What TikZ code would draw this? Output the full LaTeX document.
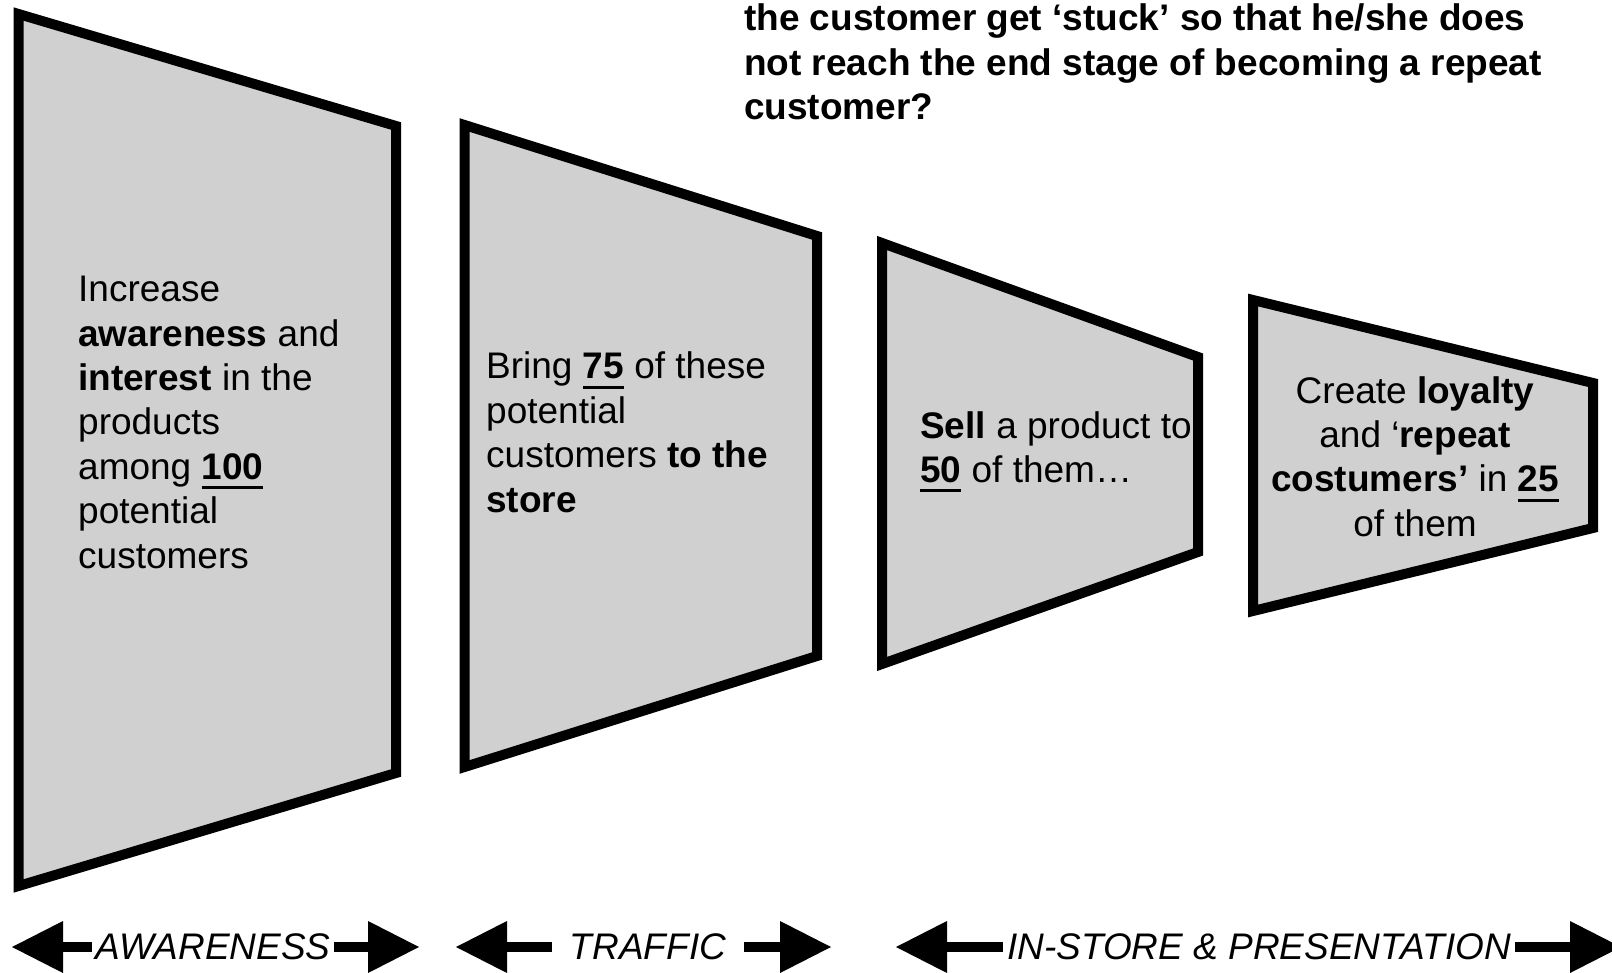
\documentclass[tikz,border=0pt]{standalone}
\usepackage{fontspec}
\setmainfont{Liberation Sans}
\usetikzlibrary{
    arrows.meta,
    positioning
}
\definecolor{stagegray}{RGB}{208,208,208}
\newsavebox{\undlbox}
\newcommand{\undl}[1]{\sbox{\undlbox}{#1}\rlap{\rule[-10pt]{\wd\undlbox}{3.2pt}}\usebox{\undlbox}}

\begin{document}
\begin{tikzpicture}[
    x=1pt, y=-1pt,
    >=Stealth,
    stage/.style={draw=black, fill=stagegray, line width=10pt, line join=miter},
    stagetext/.style={font=\fontsize{37}{44.4}\selectfont, align=left, inner sep=0pt},
    band/.style={line width=10pt, -{Triangle[length=51pt, width=52pt, line width=0pt]}},
    bandlabel/.style={font=\fontsize{37}{44.4}\selectfont\itshape, inner ysep=0pt}
]
\useasboundingbox (0,0) rectangle (1612,973);

% Funnel stages
\draw[stage] (18.5,14) -- (396,126) -- (396,773) -- (18.5,886) -- cycle;
\draw[stage] (464.5,125) -- (817,236) -- (817,656) -- (464.5,767) -- cycle;
\draw[stage] (882,243) -- (1198,357) -- (1198,552) -- (882,664) -- cycle;
\draw[stage] (1253,300) -- (1593,383) -- (1593,528) -- (1253,611) -- cycle;

% Stage texts (anchored on the baseline of the last line)
\node[stagetext, anchor=base west] (awaretext) at (78,568)
    {Increase\\\textbf{awareness} and\\\textbf{interest} in the\\products\\among \undl{\textbf{100}}\\potential\\customers};
\node[stagetext, anchor=base west] (traffictext) at (486,512)
    {Bring \undl{\textbf{75}} of these\\potential\\customers \textbf{to the}\\\textbf{store}};
\node[stagetext, anchor=base west] (selltext) at (920,482.4)
    {\textbf{Sell} a product to\\\undl{\textbf{50}} of them…};
\node[stagetext, align=center, anchor=base] (loyaltext) at (1415,536.2)
    {Create \textbf{loyalty}\\and ‘\textbf{repeat}\\\textbf{costumers’} in \undl{\textbf{25}}\\of them};

% Question
\node[stagetext, font=\fontsize{37}{44.4}\selectfont\bfseries, anchor=base west] (question) at (744,119.8)
    {the customer get ‘stuck’ so that he/she does\\not reach the end stage of becoming a repeat\\customer?};

% Phase arrows
\node[bandlabel, inner xsep=3pt] (aware) at (213,947) {AWARENESS};
\node[bandlabel, inner xsep=18pt] (traffic) at (648,947) {TRAFFIC};
\node[bandlabel, inner xsep=4pt] (instore) at (1259,947) {IN-STORE \& PRESENTATION};

\coordinate (awareL) at (12,947);
\coordinate (awareR) at (419,947);
\coordinate (trafficL) at (456,947);
\coordinate (trafficR) at (831,947);
\coordinate (instoreL) at (896,947);
\coordinate (instoreR) at (1621,947);

\draw[band] (aware.west) -- (awareL);
\draw[band] (aware.east) -- (awareR);
\draw[band] (traffic.west) -- (trafficL);
\draw[band] (traffic.east) -- (trafficR);
\draw[band] (instore.west) -- (instoreL);
\draw[band] (instore.east) -- (instoreR);
\end{tikzpicture}
\end{document}
